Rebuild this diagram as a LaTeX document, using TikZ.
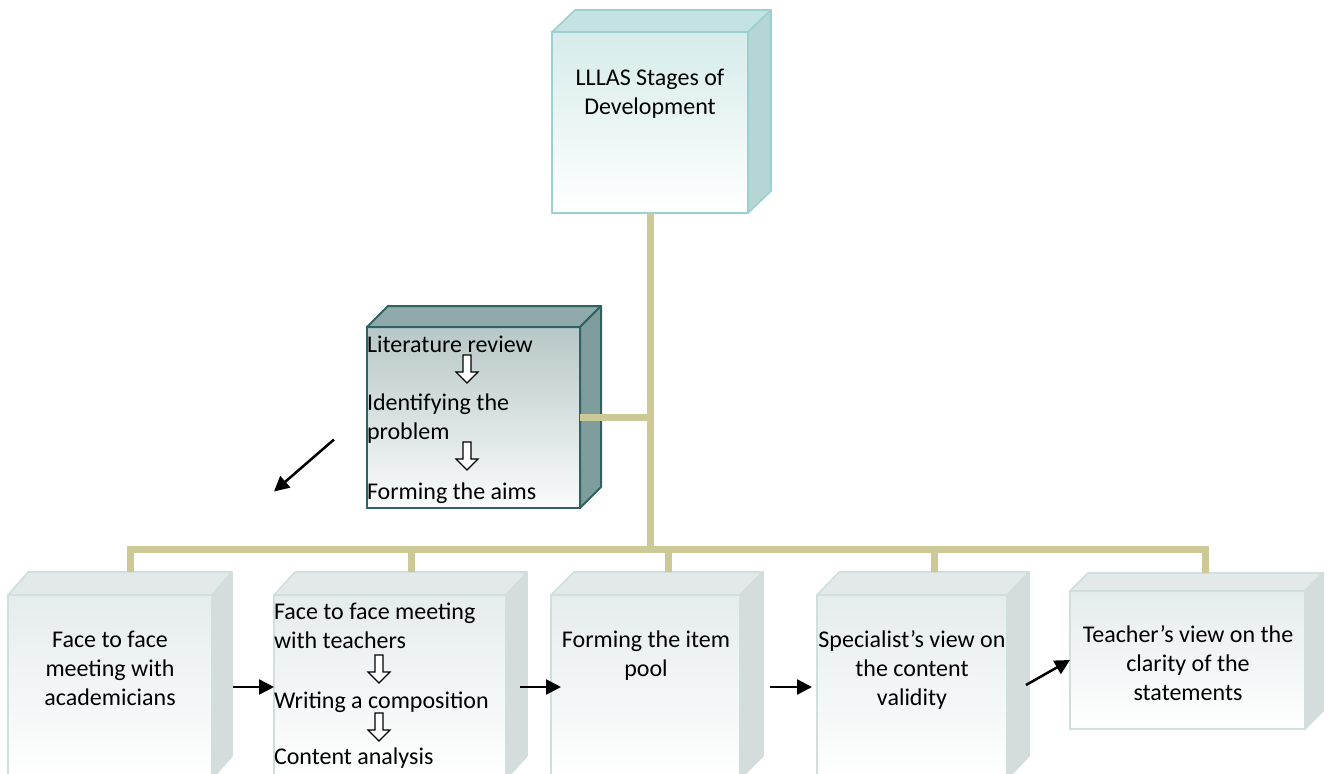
\documentclass[tikz,border=0pt]{standalone}
\usepackage{fontspec}
\setmainfont{Carlito}
\usetikzlibrary{arrows.meta,positioning,calc}
\definecolor{linkolive}{RGB}{204,201,150}
\definecolor{stageedge}{RGB}{156,208,208}
\definecolor{stagetop}{RGB}{196,226,226}
\definecolor{stageside}{RGB}{182,214,214}
\definecolor{stagefront}{RGB}{214,235,235}
\definecolor{litedge}{RGB}{47,98,98}
\definecolor{littop}{RGB}{143,170,169}
\definecolor{litside}{RGB}{128,157,157}
\definecolor{litfront}{RGB}{183,199,199}
\definecolor{stepedge}{RGB}{208,222,222}
\definecolor{steptop}{RGB}{227,233,233}
\definecolor{stepside}{RGB}{213,220,220}
\definecolor{stepfront}{RGB}{229,236,236}

\begin{document}
\begin{tikzpicture}[x=0.5pt, y=-0.5pt,
    every node/.style={font=\fontsize{12pt}{14.5pt}\selectfont,
        inner sep=0pt, outer sep=0pt},
    stagebox/.style={rectangle, anchor=north west, draw=stageedge,
        line width=0.8pt, top color=stagefront, bottom color=white},
    litbox/.style={rectangle, anchor=north west, draw=litedge,
        line width=1pt, top color=litfront, bottom color=white!94!litfront},
    stepbox/.style={rectangle, anchor=north west, draw=stepedge,
        line width=0.8pt, top color=stepfront, bottom color=white},
    stagetopf/.style={fill=stagetop, draw=stageedge, line width=0.8pt, line join=round},
    stagesidef/.style={fill=stageside, draw=stageedge, line width=0.8pt, line join=round},
    littopf/.style={fill=littop, draw=litedge, line width=1pt, line join=round},
    litsidef/.style={fill=litside, draw=litedge, line width=1pt, line join=round},
    steptopf/.style={fill=steptop, draw=stepedge, line width=0.8pt, line join=round},
    stepsidef/.style={fill=stepside, draw=stepedge, line width=0.8pt, line join=round},
    link/.style={draw=linkolive, line width=3.5pt},
    arr/.style={-{Triangle[length=7.5pt, width=7.5pt]}, line width=1.25pt},
    hollowarrow/.pic={
        \draw[fill=white, line width=0.6pt] (-4,-14) -- (4,-14) -- (4,3) -- (11,3)
            -- (0,14) -- (-11,3) -- (-4,3) -- cycle;
    },
    boxtext/.style={align=center, anchor=north},
    steptext/.style={align=left, anchor=north west},
]
\useasboundingbox (0,0) rectangle (1329,773);
\clip (0,0) rectangle (1329,773);

% Top: stages box
\node[stagebox, minimum width=98pt, minimum height=90.5pt] (stage) at (552,32) {};
\draw[stagetopf] (stage.north west) -- ++(23,-22) -- ($(stage.north east)+(23,-22)$) -- (stage.north east) -- cycle;
\draw[stagesidef] (stage.north east) -- ++(23,-22) -- ($(stage.south east)+(23,-22)$) -- (stage.south east) -- cycle;

% Middle: literature box
\node[litbox, minimum width=106.5pt, minimum height=90.5pt] (lit) at (367,327) {};
\draw[littopf] (lit.north west) -- ++(21,-21) -- ($(lit.north east)+(21,-21)$) -- (lit.north east) -- cycle;
\draw[litsidef] (lit.north east) -- ++(21,-21) -- ($(lit.south east)+(21,-21)$) -- (lit.south east) -- cycle;

% Bottom row: steps
\node[stepbox, minimum width=102pt, minimum height=92pt] (b1) at (8,595) {};
\node[stepbox, minimum width=116pt, minimum height=92pt] (b2) at (274,595) {};
\node[stepbox, minimum width=94.5pt, minimum height=92pt] (b3) at (551,595) {};
\node[stepbox, minimum width=95pt, minimum height=92pt] (b4) at (817,595) {};
\node[stepbox, minimum width=117.5pt, minimum height=69pt] (b5) at (1070,591) {};
\foreach \n/\dx/\dy in {b1/20/23, b2/21/23, b3/23/23, b4/22/23, b5/18/18} {
    \draw[steptopf] (\n.north west) -- ++(\dx,-\dy) -- ($(\n.north east)+(\dx,-\dy)$) -- (\n.north east) -- cycle;
    \draw[stepsidef] (\n.north east) -- ++(\dx,-\dy) -- ($(\n.south east)+(\dx,-\dy)$) -- (\n.south east) -- cycle;
    \coordinate (\n-back) at ($(\n.north)+(\dx,-\dy)$);
}

% Tree links
\coordinate (bus) at (0,549);
\draw[link] (stage.south) -- (stage.south |- bus);
\draw[link] (lit.east) -- (lit.east -| stage.south);
\draw[link] (b1-back) -- (b1-back |- bus) -- (b5-back |- bus) -- (b5-back);
\foreach \n in {b2,b3,b4}
    \draw[link] (\n-back |- bus) -- (\n-back);

% Texts
\node[boxtext] (stagetxt) at (650,69) {LLLAS Stages of\\Development};

\node[anchor=base west] (lit1) at (367,352) {Literature review};
\pic (lita1) at (467,369) {hollowarrow};
\node[steptext] (lit2) at (367,394) {Identifying the\\problem};
\pic (lita2) at (467,456) {hollowarrow};
\node[anchor=base west] (lit3) at (367,499) {Forming the aims};

\node[boxtext] (b1txt) at (110,631) {Face to face\\meeting with\\academicians};
\node[steptext] (b2t1) at (274,603) {Face to face meeting\\with teachers};
\pic (b2a1) at (379,669) {hollowarrow};
\node[anchor=base west] (b2t2) at (274,708) {Writing a composition};
\pic (b2a2) at (379,727) {hollowarrow};
\node[anchor=base west] (b2t3) at (274,764) {Content analysis};
\node[boxtext] (b3txt) at (646,631) {Forming the item\\pool};
\node[boxtext] (b4txt) at (912,631) {Specialist’s view on\\the content\\validity};
\node[boxtext] (b5txt) at (1188,626) {Teacher’s view on the\\clarity of the\\statements};

% Arrows between steps
\draw[arr] ($(lit.west)+(-33,22)$) -- ($(lit.west)+(-93,74)$);
\draw[arr] ($(b1.east)+(21,0)$) -- (b2.west);
\draw[arr] ($(b2.east)+(14,0)$) -- ($(b3.west)+(10,0)$);
\draw[arr] ($(b3.east)+(30,0)$) -- ($(b4.west)+(-5,0)$);
\draw[arr] ($(b4.east)+(19,-2)$) -- (b5.west);

\end{tikzpicture}
\end{document}
